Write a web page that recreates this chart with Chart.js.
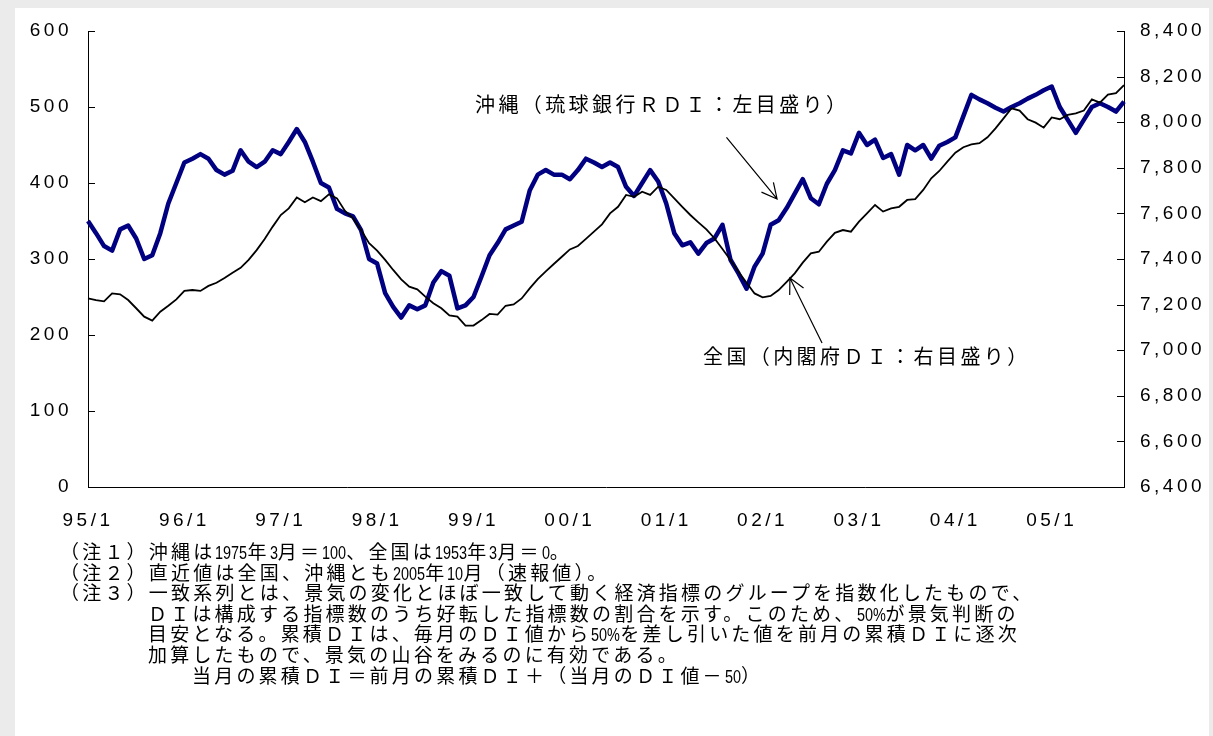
<!DOCTYPE html>
<html lang="ja">
<head>
<meta charset="utf-8">
<script src="https://cdn.jsdelivr.net/npm/chart.js@4.4.0/dist/chart.umd.min.js"></script>
<style>
  html, body { margin: 0; padding: 0; background: #ebebeb; width: 1213px; height: 736px; overflow: hidden; }
  #panel { position: absolute; left: 15px; top: 8px; width: 1194px; height: 728px; background: #fff; }
  #chart { position: absolute; left: 0; top: 0; }
  .lbl { position: absolute; font-family: "Liberation Sans", "Noto Sans CJK JP", sans-serif; font-size: 20px;
         letter-spacing: 3.4px; line-height: 20px; color: #000; white-space: nowrap; }
  #notes { position: absolute; left: 60px; top: 543px; font-family: "Liberation Sans", "Noto Sans CJK JP", sans-serif;
           font-size: 19px; letter-spacing: 3.2px; line-height: 20.6px; color: #000; white-space: nowrap; }
  #notes div { height: 20.6px; }
  #notes div.in4 { padding-left: 88px; }
  #notes div.in6 { padding-left: 132px; }
  .n { display: inline-block; font-family: "Liberation Sans", sans-serif; font-size: 19px; letter-spacing: 0;
       line-height: 20.6px; transform: scaleX(0.76); transform-origin: 0 50%; }
</style>
</head>
<body>
<div id="panel"></div>
<canvas id="chart" width="1213" height="736"></canvas>
<div class="lbl" style="left:475px; top:95px;">沖縄（琉球銀行ＲＤＩ：左目盛り）</div>
<div class="lbl" style="left:703px; top:347px;">全国（内閣府ＤＩ：右目盛り）</div>
<div id="notes">
  <div>（注１）沖縄は<span class="n">1975</span>年<span class="n">3</span>月＝<span class="n">100</span>、全国は<span class="n">1953</span>年<span class="n">3</span>月＝<span class="n">0</span>。</div>
  <div>（注２）直近値は全国、沖縄とも<span class="n">2005</span>年<span class="n">10</span>月（速報値）。</div>
  <div>（注３）一致系列とは、景気の変化とほぼ一致して動く経済指標のグループを指数化したもので、</div>
  <div class="in4">ＤＩは構成する指標数のうち好転した指標数の割合を示す。このため、<span class="n">50%</span>が景気判断の</div>
  <div class="in4">目安となる。累積ＤＩは、毎月のＤＩ値から<span class="n">50%</span>を差し引いた値を前月の累積ＤＩに逐次</div>
  <div class="in4">加算したもので、景気の山谷をみるのに有効である。</div>
  <div class="in6">当月の累積ＤＩ＝前月の累積ＤＩ＋（当月のＤＩ値－<span class="n">50</span>）</div>
</div>
<script>
// narrow digits in the notes: squeeze the layout width to match the scaled glyphs
document.querySelectorAll('#notes .n').forEach(s => {
  s.style.marginRight = (-(1 - 0.76) * s.offsetWidth) + 'px';
});

// monthly categories 95/1 .. 05/10
const months = [];
for (let y = 1995; y <= 2005; y++) {
  for (let m = 1; m <= 12; m++) {
    if (y === 2005 && m > 10) break;
    months.push(String(y % 100).padStart(2, '0') + '/' + m);
  }
}
const yearTicks = ['95/1', '96/1', '97/1', '98/1', '99/1', '00/1', '01/1', '02/1', '03/1', '04/1', '05/1'];

// 沖縄 累積DI (left axis)
const okinawa = [
  350, 334, 317, 311, 339, 344, 327, 300, 305, 334, 373, 400,
  427, 432, 438, 432, 417, 411, 416, 443, 428, 421, 428, 443,
  438, 454, 471, 454, 428, 400, 394, 366, 360, 356, 338, 300,
  294, 255, 237, 223, 239, 234, 239, 269, 284, 278, 235, 239,
  250, 277, 305, 321, 339, 344, 349, 390, 411, 417, 411, 411,
  405, 417, 432, 427, 421, 427, 421, 395, 383, 400, 417, 402,
  373, 334, 318, 322, 307, 321, 327, 345, 299, 281, 261, 290,
  307, 345, 351, 367, 386, 405, 380, 372, 399, 417, 443, 439,
  466, 450, 457, 433, 438, 411, 450, 443, 450, 432, 449, 454,
  460, 488, 516, 510, 505, 499, 494, 500, 505, 511, 516, 522,
  527, 500, 483, 466, 483, 500, 505, 500, 494, 507
];

// 全国 累積DI (right axis)
const zenkoku = [
  7227, 7220, 7214, 7249, 7245, 7220, 7184, 7147, 7130, 7169, 7195, 7223,
  7260, 7264, 7260, 7282, 7296, 7317, 7340, 7361, 7396, 7439, 7488, 7542,
  7593, 7622, 7670, 7649, 7670, 7654, 7684, 7666, 7611, 7578, 7527, 7469,
  7437, 7396, 7352, 7311, 7279, 7267, 7235, 7206, 7184, 7153, 7147, 7108,
  7108, 7132, 7159, 7156, 7195, 7201, 7227, 7271, 7312, 7346, 7378, 7410,
  7442, 7457, 7488, 7520, 7552, 7600, 7629, 7681, 7673, 7695, 7681, 7717,
  7703, 7666, 7629, 7593, 7561, 7530, 7491, 7444, 7396, 7344, 7296, 7249,
  7232, 7238, 7264, 7300, 7337, 7384, 7425, 7432, 7476, 7515, 7527, 7520,
  7564, 7600, 7637, 7608, 7622, 7629, 7659, 7663, 7703, 7754, 7786, 7827,
  7866, 7890, 7903, 7908, 7934, 7973, 8017, 8061, 8051, 8013, 7998, 7976,
  8021, 8013, 8032, 8039, 8051, 8100, 8086, 8121, 8127, 8163
];

// arrow annotations, in data units: [month index, value]
const arrows = [
  { axis: 'y',  from: [79.5, 460], to: [85.8, 379] },
  { axis: 'y1', from: [91.4, 7032], to: [87.4, 7317] }
];

const tickFont = { family: 'Liberation Sans', size: 19 };

// wider digit spacing like the original
const spacing = {
  id: 'spacing',
  beforeDraw(c) { c.ctx.letterSpacing = '3.5px'; },
  afterDraw(c) { c.ctx.letterSpacing = '0px'; }
};

// tick marks pointing into the plot
const innerTicks = {
  id: 'innerTicks',
  beforeDatasetsDraw(c) {
    const ctx = c.ctx;
    const { left, right } = c.chartArea;
    ctx.save();
    ctx.strokeStyle = '#000';
    ctx.lineWidth = 1;
    c.scales.y.ticks.forEach(t => {
      const py = Math.round(c.scales.y.getPixelForValue(t.value)) + 0.5;
      ctx.beginPath(); ctx.moveTo(left, py); ctx.lineTo(left + 7, py); ctx.stroke();
    });
    c.scales.y1.ticks.forEach(t => {
      const py = Math.round(c.scales.y1.getPixelForValue(t.value)) + 0.5;
      ctx.beginPath(); ctx.moveTo(right, py); ctx.lineTo(right - 7, py); ctx.stroke();
    });
    ctx.restore();
  }
};

const arrowPlugin = {
  id: 'arrowPlugin',
  afterDatasetsDraw(c) {
    const ctx = c.ctx;
    ctx.save();
    ctx.strokeStyle = '#000';
    ctx.lineWidth = 1.2;
    arrows.forEach(a => {
      const x1 = c.scales.x.getPixelForValue(a.from[0]);
      const y1 = c.scales[a.axis].getPixelForValue(a.from[1]);
      const x2 = c.scales.x.getPixelForValue(a.to[0]);
      const y2 = c.scales[a.axis].getPixelForValue(a.to[1]);
      const ang = Math.atan2(y1 - y2, x1 - x2);
      const len = 17, spread = 27 * Math.PI / 180;
      ctx.beginPath();
      ctx.moveTo(x1, y1); ctx.lineTo(x2, y2);
      ctx.moveTo(x2 + len * Math.cos(ang - spread), y2 + len * Math.sin(ang - spread));
      ctx.lineTo(x2, y2);
      ctx.lineTo(x2 + len * Math.cos(ang + spread), y2 + len * Math.sin(ang + spread));
      ctx.stroke();
    });
    ctx.restore();
  }
};

new Chart(document.getElementById('chart').getContext('2d'), {
  type: 'line',
  data: {
    labels: months,
    datasets: [
      {
        label: '全国（内閣府ＤＩ：右目盛り）',
        data: zenkoku,
        yAxisID: 'y1',
        borderColor: '#000000',
        borderWidth: 1.8,
        pointRadius: 0,
        tension: 0,
        order: 0
      },
      {
        label: '沖縄（琉球銀行ＲＤＩ：左目盛り）',
        data: okinawa,
        yAxisID: 'y',
        borderColor: '#000080',
        borderWidth: 4.5,
        borderJoinStyle: 'round',
        pointRadius: 0,
        tension: 0,
        order: 1
      }
    ]
  },
  options: {
    responsive: false,
    animation: false,
    devicePixelRatio: 1,
    layout: { padding: { top: 31, bottom: 0, left: 0, right: 0 } },
    plugins: { legend: { display: false }, tooltip: { enabled: false } },
    scales: {
      x: {
        offset: false,
        grid: { display: false },
        border: { display: true, color: '#000', width: 1 },
        ticks: {
          autoSkip: false, maxRotation: 0, minRotation: 0, padding: 14,
          color: '#000', font: tickFont,
          callback: function (v, i) { const l = months[i]; return yearTicks.includes(l) ? l : null; }
        },
        afterFit(s) { s.height = 249; }
      },
      y: {
        position: 'left',
        min: 0, max: 600,
        grid: { display: false },
        border: { display: true, color: '#000', width: 1 },
        ticks: { stepSize: 100, padding: 8, color: '#000', font: tickFont },
        afterFit(s) { s.width = 88; }
      },
      y1: {
        position: 'right',
        min: 6400, max: 8400,
        grid: { display: false },
        border: { display: true, color: '#000', width: 1 },
        ticks: {
          stepSize: 200, padding: 8, color: '#000', font: tickFont,
          callback: v => v.toLocaleString('en-US')
        },
        afterFit(s) { s.width = 89; }
      }
    }
  },
  plugins: [spacing, innerTicks, arrowPlugin]
});
</script>
</body>
</html>
